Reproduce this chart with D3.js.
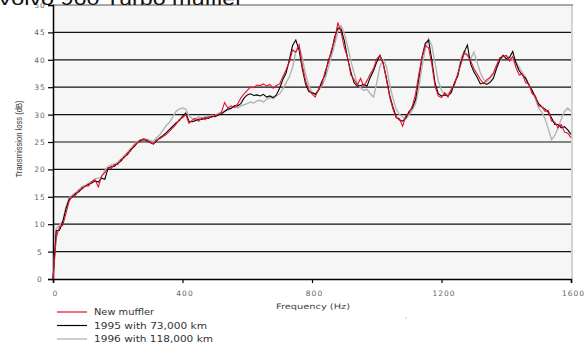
<!DOCTYPE html>
<html>
<head>
<meta charset="utf-8">
<script src="https://cdn.jsdelivr.net/npm/d3@7"></script>
<style>
  html, body { margin: 0; padding: 0; background: #fff; }
  svg { display: block; }
</style>
</head>
<body>
<div id="chart"></div>
<script>
// frequency grid (Hz), 10 Hz steps
const freqs = d3.range(0, 1601, 10);

const newMuffler = [
  0, 7.5, 9.5, 9.8, 12, 14.2, 15.2, 15.3, 16.2, 16.4,
  17, 17, 17.8, 18.1, 16.8, 18.8, 19.4, 20.3, 20.2, 20.9,
  20.9, 21.8, 22.1, 23, 23.4, 24.3, 24.9, 25.1, 25.6, 25.1,
  25, 24.7, 25.4, 25.6, 26, 26.4, 27, 27.6, 28.2, 29.1,
  29.4, 30, 28.4, 29, 29.3, 28.8, 29.4, 29.1, 29.6, 29.5,
  29.9, 30, 30.4, 32.2, 31.2, 31.6, 31.3, 31.9, 33, 33.8,
  34.4, 35, 34.9, 35.4, 35.3, 35.6, 35.2, 35.5, 34.8, 35.3,
  35.6, 36.9, 38.2, 39.6, 41.8, 41.4, 42.7, 39, 36.2, 34.5,
  33.8, 33.2, 34.6, 35.4, 37.8, 39.4, 41.8, 43.6, 46.8, 45,
  42.2, 40.4, 37.2, 36.4, 35.4, 36.6, 35.2, 36.2, 37.4, 38.4,
  40.2, 40.8, 39.2, 36.4, 33.2, 31, 29.4, 29.3, 27.9, 29.8,
  30.2, 31.6, 33.8, 37.4, 40.4, 42.6, 42.2, 39.2, 35.2, 33.4,
  33.1, 34, 33.2, 34.6, 35.4, 37.4, 39.2, 41.2, 40.8, 39.8,
  38.4, 37.4, 36.4, 35.6, 36.4, 36.8, 37.6, 39, 40.4, 40.6,
  40.8, 39.8, 40.6, 38.6, 37.2, 37.4, 35.8, 35.6, 33.8, 33.4,
  31.6, 31.4, 30.6, 30.8, 28.8, 28.6, 27.6, 28.2, 26.8, 26.6,
  25.8
];

const km73000 = [
  0, 8.8, 8.9, 10.4, 12.8, 14.6, 15, 15.6, 15.9, 16.6,
  16.9, 17.3, 17.5, 17.9, 17.7, 18.4, 18.2, 20.2, 20.5, 20.6,
  21.1, 21.5, 22.3, 22.7, 23.6, 24.1, 24.8, 25.3, 25.4, 25.3,
  24.9, 24.6, 25.2, 25.8, 26.2, 26.7, 27.3, 27.9, 28.5, 28.9,
  29.7, 30.3, 28.8, 28.7, 28.9, 29.2, 29.1, 29.4, 29.3, 29.7,
  29.6, 29.9, 30.1, 30.6, 31, 31.1, 31.6, 31.6, 32, 33,
  33.6, 33.8, 33.5, 33.6, 33.4, 33.7, 33.2, 33.4, 33.1, 33.6,
  34.8, 36.4, 37.6, 40, 42.6, 43.6, 41.8, 38.4, 35.6, 34.2,
  34, 33.7, 34.4, 36, 37.2, 39.8, 41.4, 44.2, 45.8, 45.6,
  43.4, 40.2, 37.8, 35.8, 35.2, 35.3, 35.5, 35.2, 36.8, 38,
  39.6, 40.8, 39.4, 36.6, 33.5, 31.4, 29.6, 29, 28.8, 29.4,
  30.6, 31.2, 32.8, 36.6, 40.6, 43, 43.6, 40, 35.8, 33.8,
  33.4, 33.6, 33.4, 34, 35.8, 37, 39.6, 41.4, 42.7, 39.2,
  37.8, 36.8, 35.6, 35.8, 35.5, 35.9, 36.6, 38.4, 40, 40.8,
  40.2, 40.4, 41.5, 39.4, 38, 37.2, 36.6, 35.4, 34.4, 33.2,
  32, 31.4, 31, 30.4, 29.4, 28.2, 28.2, 27.6, 27.8, 27.2,
  26.4
];

const km118000 = [
  0, 9.2, 9.8, 10.6, 13.2, 14.8, 15.3, 15.8, 16.3, 16.9,
  17.1, 17.5, 17.8, 18.3, 18.4, 18.6, 19.8, 20.5, 20.8, 21,
  21.3, 21.9, 22.5, 23.1, 23.8, 24.5, 25.1, 25.4, 25.6, 25.5,
  25.3, 25.1, 25.8, 26.3, 27.2, 28, 28.6, 29.6, 30.6, 31,
  31.2, 31, 29.8, 29.3, 29.2, 29.6, 29.4, 29.6, 29.7, 29.9,
  29.8, 30.2, 30.4, 30.5, 30.8, 31.3, 31.5, 31.2, 31.6, 31.8,
  32, 32.3, 32.1, 32.5, 32.6, 32.3, 32.8, 33.1, 32.9, 33.4,
  33.8, 34.7, 35.8, 36.9, 38.6, 41.5, 42.6, 40.4, 37.4, 35.3,
  34.1, 33.8, 34.5, 35.2, 36.4, 38.5, 40.6, 42.8, 45.2, 46.2,
  44.8, 42.4, 39.8, 37.6, 35.6, 34.9, 34.4, 34.6, 33.8, 33.2,
  35.8, 38.8, 40, 38.8, 35.4, 33, 31, 30, 29.6, 29.2,
  30, 30.8, 32, 34.8, 38.8, 42, 43.9, 42.6, 39.4, 36.2,
  34.4, 33.6, 33.8, 34.4, 35.6, 37.4, 40.2, 41.6, 41, 40.2,
  41.4, 39.6, 37.6, 36.4, 36, 36.6, 37.4, 38.6, 39.8, 40.6,
  40.8, 40.4, 40, 39.6, 38.6, 37.6, 36.8, 35.4, 34.4, 32.8,
  31.2, 30.4, 29.2, 27.4, 25.4, 26.2, 27.6, 29.2, 30.6, 31.2,
  30.6
];

const seriesNames = ['New muffler', '1995 with 73,000 km', '1996 with 118,000 km'];
const seriesColors = ['#e8102a', '#000000', '#b4b4b4'];
const seriesWidths = [1.1, 1.1, 1.4];
const yTicks = [0, 5, 10, 15, 20, 25, 30, 35, 40, 45, 50];
const xTicks = [0, 400, 800, 1200, 1600];

const W = 585, H = 344;
const plot = { left: 53, right: 571, top: 5, bottom: 279 };

const svg = d3.select('#chart').append('svg')
  .attr('width', W)
  .attr('height', H);

const x = d3.scaleLinear().domain([0, 1600]).range([plot.left, plot.right]);
const y = d3.scaleLinear().domain([0, 50]).range([plot.bottom, plot.top]);

// plot background
svg.append('rect')
  .attr('x', plot.left).attr('y', plot.top)
  .attr('width', plot.right - plot.left)
  .attr('height', plot.bottom - plot.top)
  .attr('fill', '#f6f6f6');

// right and top frame
svg.append('line')
  .attr('x1', plot.right + 1).attr('x2', plot.right + 1)
  .attr('y1', plot.top).attr('y2', plot.bottom)
  .attr('stroke', '#d4d4d4').attr('stroke-width', 2);
svg.append('line')
  .attr('x1', plot.left).attr('x2', plot.right + 2)
  .attr('y1', plot.top).attr('y2', plot.top)
  .attr('stroke', '#555').attr('stroke-width', 1);

// horizontal grid
svg.append('g')
  .selectAll('line')
  .data(yTicks.filter(t => t > 0 && t < 50))
  .join('line')
  .attr('x1', plot.left).attr('x2', plot.right)
  .attr('y1', d => y(d)).attr('y2', d => y(d))
  .attr('stroke', '#111').attr('stroke-width', 1.2);

const fontTick = '"DejaVu Sans", Verdana, sans-serif';

// y axis
const yAxis = d3.axisLeft(y).tickValues(yTicks).tickSize(5).tickPadding(4);
const gy = svg.append('g')
  .attr('transform', `translate(${plot.left},0)`)
  .call(yAxis);
gy.select('.domain').attr('stroke', '#000').attr('stroke-width', 1.5);
gy.selectAll('.tick line').attr('stroke', '#000').attr('stroke-width', 1.2);
gy.selectAll('.tick text')
  .attr('fill', '#666')
  .attr('font-family', fontTick)
  .attr('font-size', '7.5px')
  .attr('letter-spacing', '1px')
  .attr('text-anchor', 'middle')
  .attr('x', -13);

// x axis
const xAxis = d3.axisBottom(x).tickValues(xTicks).tickFormat(d3.format('d'))
  .tickSize(4).tickPadding(8);
const gx = svg.append('g')
  .attr('transform', `translate(0,${plot.bottom})`)
  .call(xAxis);
gx.select('.domain').attr('stroke', '#000').attr('stroke-width', 1.5);
gx.selectAll('.tick line').attr('stroke', '#000').attr('stroke-width', 1.2);
gx.selectAll('.tick text')
  .attr('fill', '#666')
  .attr('font-family', fontTick)
  .attr('font-size', '7.5px')
  .attr('letter-spacing', '1px')
  .attr('dx', '2px');

// series, gray first so red sits on top
const line = d3.line()
  .x((d, i) => x(freqs[i]))
  .y(d => y(d));

const series = [newMuffler, km73000, km118000];
[2, 1, 0].forEach(k => {
  svg.append('path')
    .datum(series[k])
    .attr('fill', 'none')
    .attr('stroke', seriesColors[k])
    .attr('stroke-width', seriesWidths[k])
    .attr('stroke-linejoin', 'miter')
    .attr('d', line);
});

// axis titles
svg.append('text')
  .attr('x', 313).attr('y', 309)
  .attr('text-anchor', 'middle')
  .attr('fill', '#444')
  .attr('font-family', fontTick)
  .attr('font-size', '7.5px')
  .attr('textLength', 74)
  .attr('lengthAdjust', 'spacingAndGlyphs')
  .text('Frequency (Hz)');

svg.append('text')
  .attr('transform', 'translate(22,139) rotate(-90)')
  .attr('text-anchor', 'middle')
  .attr('fill', '#333')
  .attr('font-family', '"Liberation Sans Narrow", "Liberation Sans", sans-serif')
  .attr('font-size', '9px')
  .attr('textLength', 77)
  .attr('lengthAdjust', 'spacingAndGlyphs')
  .text('Transmission loss (dB)');

// title, clipped at the top edge as in the source
svg.append('text')
  .attr('x', -3).attr('y', 4.5)
  .attr('fill', '#111')
  .attr('font-family', 'Arial, "Liberation Sans", sans-serif')
  .attr('font-size', '19px')
  .attr('textLength', 246)
  .attr('lengthAdjust', 'spacingAndGlyphs')
  .text('Volvo 960 Turbo muffler');

// legend
const legendY = d3.scalePoint().domain(seriesNames).range([312, 339]);
const legendLen = [60, 113, 119];
const legend = svg.append('g');
seriesNames.forEach((name, k) => {
  legend.append('line')
    .attr('x1', 57).attr('x2', 87)
    .attr('y1', legendY(name)).attr('y2', legendY(name))
    .attr('stroke', seriesColors[k])
    .attr('stroke-width', k === 2 ? 1.3 : 1.2);
  legend.append('text')
    .attr('x', 94).attr('y', legendY(name) + 3)
    .attr('fill', '#333')
    .attr('font-family', fontTick)
    .attr('font-size', '8px')
    .attr('textLength', legendLen[k])
    .attr('lengthAdjust', 'spacingAndGlyphs')
    .text(name);
});

// stray speck seen below the axis in the source
svg.append('rect')
  .attr('x', 405.5).attr('y', 317.5)
  .attr('width', 1).attr('height', 1)
  .attr('fill', '#999');
</script>
</body>
</html>
